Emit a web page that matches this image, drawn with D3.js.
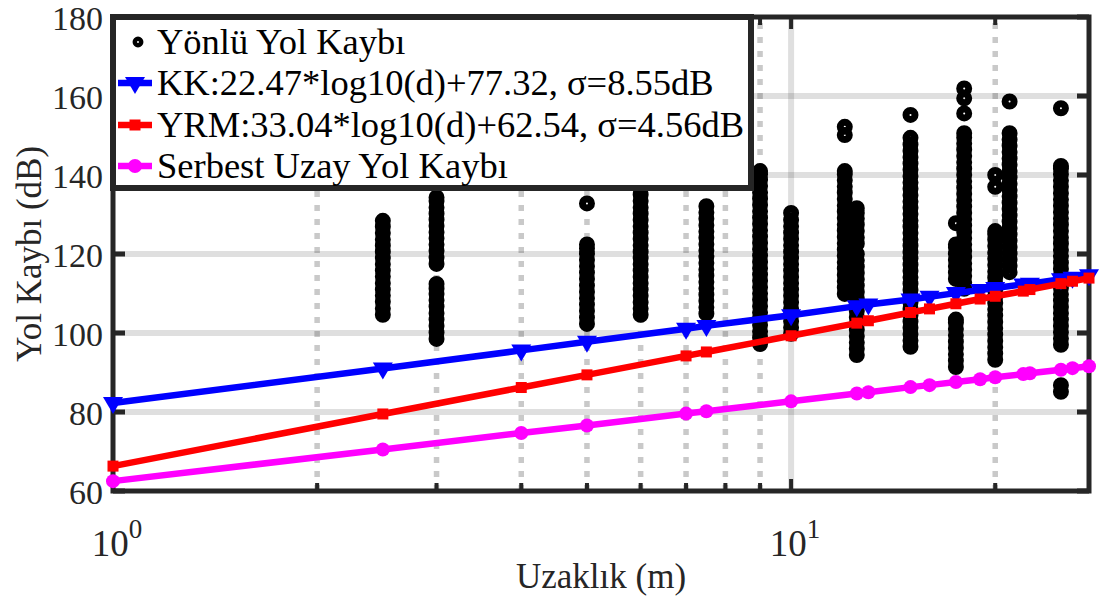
<!DOCTYPE html>
<html><head><meta charset="utf-8">
<script src="https://cdn.jsdelivr.net/npm/d3@7"></script>
<style>
body{margin:0;background:#fff}
svg{display:block}
text{font-family:"Liberation Serif","Times New Roman",serif}
</style>
</head><body>
<svg id="chart" width="1101" height="605"></svg>
<script>
// ---------- data ----------
const lineDistances = [1, 2.5, 4, 5, 7, 7.5, 10, 12.5, 13, 15, 16, 17.5, 19, 20, 22, 22.5, 25, 26, 27.5];
const kkLoss   = [82.3, 91.0, 95.6, 97.8, 101.1, 101.8, 104.5, 106.8, 107.2, 108.5, 109.2, 110.1, 110.9, 111.4, 112.3, 112.5, 113.6, 114.0, 114.6];
const yrmLoss  = [66.3, 79.5, 86.2, 89.4, 94.2, 95.2, 99.3, 102.5, 103.1, 105.2, 106.1, 107.4, 108.6, 109.3, 110.6, 111.0, 112.5, 113.1, 113.9];
const fsplLoss = [62.5, 70.5, 74.7, 76.6, 79.6, 80.2, 82.7, 84.7, 85.0, 86.3, 86.8, 87.6, 88.3, 88.8, 89.6, 89.8, 90.7, 91.1, 91.6];

const scatterDistances = [2.5, 3, 5, 6, 7.5, 9, 10, 12, 12.5, 15, 17.5, 18, 20, 21, 25];
const scatterLosses = [
  [104.6,106.2,107.9,109.5,111.0,112.6,114.3,115.8,117.4,119.0,120.6,122.1,123.7,125.3,126.9,128.4],
  [98.5,100.1,101.8,103.4,105.0,106.7,108.3,109.9,111.2,112.4,117.5,119.1,120.8,122.4,124.0,125.5,127.1,128.7,130.2,131.8,133.4,134.3],
  [102.3,103.9,105.6,107.2,108.8,110.4,112.0,113.7,115.3,116.9,118.5,120.1,121.4,122.4,132.8],
  [104.6,106.2,107.8,109.4,111.0,112.6,114.2,115.8,117.4,119.0,120.6,122.2,123.8,125.4,127.0,128.6,130.2,131.8,133.4,135.0,136.6,138.2],
  [104.9,106.5,108.1,109.7,111.3,112.9,114.5,116.1,117.7,119.3,120.9,122.5,124.1,125.7,127.3,128.9,130.5,132.1],
  [97.2,98.8,100.4,102.0,103.6,105.2,106.8,108.4,110.0,111.6,113.2,114.8,116.4,118.0,119.6,121.2,122.8,124.4,126.0,127.6,129.2,130.8,132.4,134.0,135.6,137.2,138.8,140.2,141.0],
  [99.8,101.4,103.0,104.6,106.2,107.8,109.4,111.0,112.6,114.2,115.8,117.4,119.0,120.6,122.2,123.8,125.4,127.0,128.6,130.4],
  [109.9,111.5,113.1,114.7,116.3,117.9,119.5,121.1,122.7,124.3,125.9,127.5,129.1,130.7,132.3,133.9,135.5,137.1,138.7,140.2,141.0,150.1,152.2],
  [94.4,96.0,97.6,99.2,100.8,102.4,104.0,105.6,107.2,108.8,110.4,112.0,113.6,115.2,116.8,118.4,120.0,122.6,124.2,125.8,127.4,129.0,130.4,131.6],
  [96.5,98.1,99.7,101.3,102.9,104.5,106.1,107.7,109.3,110.9,112.5,114.1,115.7,117.3,118.9,120.5,122.1,123.7,125.3,126.9,128.5,130.1,131.7,133.3,134.9,136.5,138.1,139.7,141.3,142.9,144.5,146.1,147.7,149.4,155.2],
  [91.4,93.0,94.6,96.2,97.8,99.4,101.0,102.6,103.4,113.7,115.3,116.9,118.5,120.1,121.7,122.4,127.8],
  [111.2,112.8,114.4,116.0,117.6,119.2,120.8,122.4,124.0,125.6,127.2,128.8,130.4,132.0,133.6,135.2,136.8,138.4,140.0,141.6,143.2,144.8,146.4,148.0,149.5,150.6,155.6,159.4,161.9],
  [93.2,94.8,96.4,98.0,99.6,101.2,102.8,104.4,106.0,107.6,109.2,110.8,112.4,114.0,115.6,117.2,118.8,120.4,122.0,123.6,125.0,125.8,137.0,140.0],
  [115.4,117.0,118.6,120.2,121.8,123.4,125.0,126.6,128.2,129.8,131.4,133.0,134.6,136.2,137.8,139.4,141.0,142.6,144.2,145.8,147.4,149.0,150.6,158.6],
  [85.1,86.8,97.0,98.6,100.2,101.8,103.4,105.0,106.6,108.2,109.8,111.4,113.0,114.6,116.2,117.8,119.4,121.0,122.6,124.2,125.8,127.4,129.0,130.6,132.2,133.8,135.4,137.0,138.6,140.2,141.6,142.3,156.9]
];

const yTicks = [60, 80, 100, 120, 140, 160, 180];
const xMajorTicks = [1, 10];
const xMajorExponents = ["0", "1"];
const xMinorTicks = [2, 3, 4, 5, 6, 7, 8, 9, 20];
const legendLabels = [
  "Yönlü Yol Kaybı",
  "KK:22.47*log10(d)+77.32, σ=8.55dB",
  "YRM:33.04*log10(d)+62.54, σ=4.56dB",
  "Serbest Uzay Yol Kaybı"
];
const xLabel = "Uzaklık (m)";
const yLabel = "Yol Kaybı (dB)";

// ---------- layout ----------
const L = 113, R = 1089, T = 17, B = 491;
const axisColor = "#262626";
const svg = d3.select("#chart");

const x = d3.scaleLog().domain([1, 27.5]).range([L, R]);
const y = d3.scaleLinear().domain([60, 180]).range([B, T]);

// grid
const grid = svg.append("g");
grid.selectAll("line.hy").data(yTicks.slice(1, -1)).join("line")
  .attr("x1", L).attr("x2", R).attr("y1", d => y(d)).attr("y2", d => y(d))
  .attr("stroke", axisColor).attr("stroke-opacity", 0.15).attr("stroke-width", 6);
grid.selectAll("line.vmaj").data([10]).join("line")
  .attr("x1", d => x(d)).attr("x2", d => x(d)).attr("y1", T).attr("y2", B)
  .attr("stroke", axisColor).attr("stroke-opacity", 0.15).attr("stroke-width", 6);
grid.selectAll("line.vmin").data(xMinorTicks).enter().append("line")
  .attr("x1", d => x(d)).attr("x2", d => x(d)).attr("y1", B).attr("y2", T)
  .attr("stroke", axisColor).attr("stroke-opacity", 0.25).attr("stroke-width", 5.5)
  .attr("stroke-dasharray", "6 8");

// frame + ticks
const fr = svg.append("g");
fr.append("rect").attr("x", L).attr("y", T).attr("width", R - L).attr("height", B - T)
  .attr("fill", "none").attr("stroke", axisColor).attr("stroke-width", 5);
yTicks.forEach(v => {
  fr.append("line").attr("x1", L).attr("x2", L + 12).attr("y1", y(v)).attr("y2", y(v))
    .attr("stroke", axisColor).attr("stroke-width", 5);
  fr.append("line").attr("x1", R).attr("x2", R - 12).attr("y1", y(v)).attr("y2", y(v))
    .attr("stroke", axisColor).attr("stroke-width", 5);
});
xMinorTicks.concat([10]).forEach(v => {
  const len = v === 10 ? 12 : 8;
  fr.append("line").attr("x1", x(v)).attr("x2", x(v)).attr("y1", B).attr("y2", B - len)
    .attr("stroke", axisColor).attr("stroke-width", 4);
  fr.append("line").attr("x1", x(v)).attr("x2", x(v)).attr("y1", T).attr("y2", T + len)
    .attr("stroke", axisColor).attr("stroke-width", 4);
});

// tick labels
svg.append("g").selectAll("text").data(yTicks).join("text")
  .attr("x", 103).attr("y", d => y(d) + 12.5)
  .attr("text-anchor", "end").attr("font-size", 34).attr("fill", axisColor)
  .text(d => d);
const xt = svg.append("g").selectAll("text").data(xMajorTicks).join("text")
  .attr("x", d => x(d) + 4).attr("y", 556)
  .attr("text-anchor", "middle").attr("font-size", 37).attr("fill", axisColor);
xt.append("tspan").text("10");
xt.append("tspan").attr("dy", -18).attr("font-size", 27).text((d, i) => xMajorExponents[i]);

// axis labels
svg.append("text").attr("x", (L + R) / 2).attr("y", 588).attr("text-anchor", "middle")
  .attr("font-size", 35).attr("fill", axisColor).text(xLabel);
svg.append("text").attr("transform", `translate(41,${(T + B) / 2}) rotate(-90)`)
  .attr("text-anchor", "middle").attr("font-size", 35).attr("fill", axisColor).text(yLabel);

// scatter
const sc = svg.append("g");
scatterDistances.forEach((dist, i) => {
  sc.selectAll(null).data(scatterLosses[i]).enter().append("circle")
    .attr("cx", x(dist)).attr("cy", d => y(d)).attr("r", 4.5)
    .attr("fill", "none").attr("stroke", "#000").attr("stroke-width", 7);
});

// lines
const series = [
  {vals: kkLoss, color: "#0000ff", marker: "tri"},
  {vals: yrmLoss, color: "#ff0000", marker: "sq"},
  {vals: fsplLoss, color: "#ff00ff", marker: "circ"}
];
const triPath = "M-10,-6L10,-6L0,11Z";
function drawMarker(g, m, color, cx, cy) {
  if (m === "tri") g.append("path").attr("d", triPath).attr("transform", `translate(${cx},${cy})`).attr("fill", color);
  else if (m === "sq") g.append("rect").attr("x", cx - 5.5).attr("y", cy - 5.5).attr("width", 11).attr("height", 11).attr("fill", color);
  else g.append("circle").attr("cx", cx).attr("cy", cy).attr("r", 7).attr("fill", color);
}
series.forEach(s => {
  const pts = lineDistances.map((d, i) => [x(d), y(s.vals[i])]);
  const g = svg.append("g");
  g.append("path").attr("d", d3.line()(pts)).attr("fill", "none")
    .attr("stroke", s.color).attr("stroke-width", 6.5).attr("stroke-linejoin", "round");
  pts.forEach(p => drawMarker(g, s.marker, s.color, p[0], p[1]));
});

// legend
const lg = svg.append("g");
lg.append("rect").attr("x", L).attr("y", T).attr("width", 751 - L).attr("height", 188 - T)
  .attr("fill", "#fff").attr("stroke", axisColor).attr("stroke-width", 6);
const rowBase = [54, 95, 137, 178];
legendLabels.forEach((lab, i) => {
  const cy = rowBase[i] - 12;
  if (i === 0) {
    lg.append("circle").attr("cx", 138).attr("cy", cy).attr("r", 3.2)
      .attr("fill", "none").attr("stroke", "#000").attr("stroke-width", 4.5);
  } else {
    const s = series[i - 1];
    lg.append("line").attr("x1", 118).attr("x2", 152).attr("y1", cy).attr("y2", cy)
      .attr("stroke", s.color).attr("stroke-width", 6.5);
    drawMarker(lg, s.marker, s.color, 135, cy);
  }
  lg.append("text").attr("x", 157).attr("y", rowBase[i]).attr("font-size", 36.5)
    .attr("fill", "#000").text(lab);
});
</script>
</body></html>
